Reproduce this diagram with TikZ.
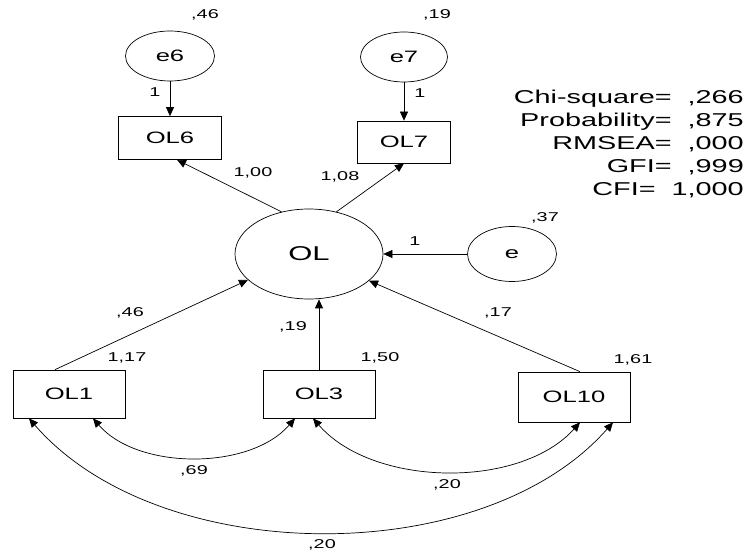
\documentclass[tikz,border=0pt]{standalone}
\usepackage{fontspec}
\usepackage{graphicx}
\setmainfont{Liberation Sans}
\usetikzlibrary{shapes.geometric,arrows.meta}
% the path diagram is set with wide (horizontally stretched) lettering
\newcommand\stretched[1]{\scalebox{1.55}[1]{#1}}
\tikzset{
  line/.style={line width=0.7pt, draw=black},
  lat/.style={ellipse, line, inner sep=0pt, font=\fontsize{16.5}{18}\selectfont},
  obs/.style={rectangle, line, inner sep=0pt, minimum width=112pt, font=\fontsize{16.5}{18}\selectfont},
  arr/.style={line, -{Triangle[length=9pt,width=8pt]}},
  dbl/.style={line, {Triangle[length=9pt,width=8pt]}-{Triangle[length=9pt,width=8pt]}},
  num/.style={inner sep=0pt, font=\fontsize{12.8}{14}\selectfont},
}
\begin{document}
\begin{tikzpicture}[x=1pt,y=-1pt]
\useasboundingbox (0,0) rectangle (748,556);

% latent variables and error terms
\node[lat, minimum width=89pt, minimum height=50pt] (e6) at (170,56) {\stretched{e6}};
\node[lat, minimum width=87pt, minimum height=50pt] (e7) at (404,57) {\stretched{e7}};
\node[lat, minimum width=148pt, minimum height=90pt, font=\fontsize{20}{22}\selectfont] (OL) at (309,254) {\stretched{OL}};
\node[lat, minimum width=89pt, minimum height=55pt] (e) at (512,254) {\stretched{e}};

% observed indicators
\node[obs, minimum width=103pt, minimum height=43pt] (OL6) at (170,138) {\stretched{OL6}};
\node[obs, minimum width=93pt, minimum height=42pt] (OL7) at (404,142) {\stretched{OL7}};
\node[obs, minimum height=48pt] (OL1) at (69,394) {\stretched{OL1}};
\node[obs, minimum height=48pt] (OL3) at (319,394) {\stretched{OL3}};
\node[obs, minimum height=50pt] (OL10) at (574,397) {\stretched{OL10}};

% regression paths
\draw[arr] (e6) -- (OL6);
\draw[arr] (e7) -- (OL7);
\draw[arr] (OL.123) -- ([xshift=7pt]OL6.south);
\draw[arr] (OL.57) -- (OL7.south);
\draw[arr] (e) -- (OL);
\draw[arr] ([xshift=-14pt]OL1.north) -- (OL.203);
\draw[arr] (OL3.north) -- (OL3.north |- OL.south);
\draw[arr] ([xshift=6pt]OL10.north) -- (OL.336);

% covariances
\draw[dbl] ([xshift=24pt]OL1.south) .. controls +(45,52) and +(-45,52) .. ([xshift=-24pt]OL3.south);
\draw[dbl] ([xshift=-6pt]OL3.south) .. controls +(60,69) and +(-60,67) .. ([xshift=6pt]OL10.south);
\draw[dbl] ([xshift=-40pt]OL1.south) .. controls +(130,150) and +(-130,148) .. ([xshift=39pt]OL10.south);

% estimates
\node[num] (v6)  at (205,15)  {\stretched{,46}};
\node[num] (v7)  at (437,15)  {\stretched{,19}};
\node[num] (f6)  at (155,92)  {\stretched{1}};
\node[num] (f7)  at (420,93)  {\stretched{1}};
\node[num] (w6)  at (253,173) {\stretched{1,00}};
\node[num] (w7)  at (340,177) {\stretched{1,08}};
\node[num] (ve)  at (545,218) {\stretched{,37}};
\node[num] (fe)  at (415,241) {\stretched{1}};
\node[num] (w1)  at (130,313) {\stretched{,46}};
\node[num] (w3)  at (293,327) {\stretched{,19}};
\node[num] (w10) at (498,313) {\stretched{,17}};
\node[num] (m1)  at (127,358) {\stretched{1,17}};
\node[num] (m3)  at (380,358) {\stretched{1,50}};
\node[num] (m10) at (633,360) {\stretched{1,61}};
\node[num] (c13) at (194,471) {\stretched{,69}};
\node[num] (c310) at (447,485) {\stretched{,20}};
\node[num] (c110) at (322,545) {\stretched{,20}};

% fit statistics
\node[inner sep=0pt, anchor=east, font=\fontsize{18.6}{23}\selectfont] (fit) at (744,145)
  {\stretched{\begin{tabular}{@{}r@{}}
   Chi-square=~~,266\\
   Probability=~~,875\\
   RMSEA=~~,000\\
   GFI=~~,999\\
   CFI=~~1,000
   \end{tabular}}};
\end{tikzpicture}
\end{document}
